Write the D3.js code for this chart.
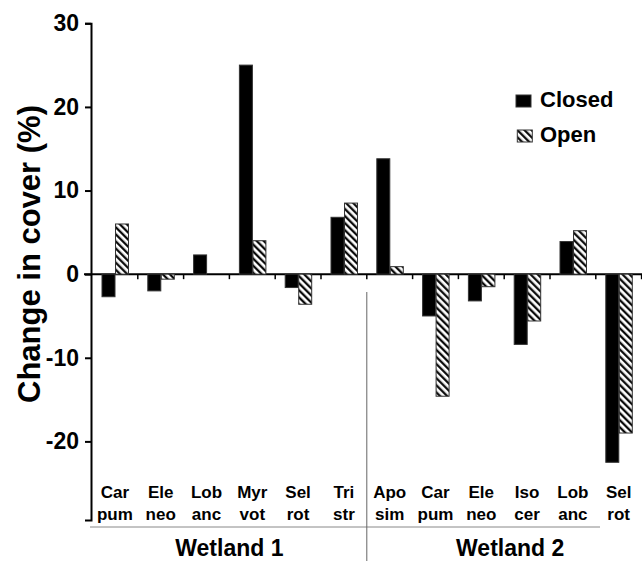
<!DOCTYPE html>
<html>
<head>
<meta charset="utf-8">
<script src="https://cdn.jsdelivr.net/npm/d3@7"></script>
<style>
    body { margin: 0; background: #fff; }
    svg { display: block; font-family: "Liberation Sans", Arial, sans-serif; }
</style>
</head>
<body>
<div id="chart"></div>
<script>
// chart values
var species = ["Car pum", "Ele neo", "Lob anc", "Myr vot", "Sel rot", "Tri str",
               "Apo sim", "Car pum", "Ele neo", "Iso cer", "Lob anc", "Sel rot"];
var wetlands = ["Wetland 1", "Wetland 2"];
var speciesPerWetland = [6, 6];
var closedValues = [-2.7, -2.0, 2.3, 25.0, -1.6, 6.8,
                    13.8, -5.0, -3.2, -8.4, 3.9, -22.5];
var openValues = [6.0, -0.6, 0, 4.0, -3.6, 8.5,
                  0.9, -14.6, -1.5, -5.6, 5.2, -19.0];
var yTicks = [-20, -10, 0, 10, 20, 30];
var seriesNames = ["Closed", "Open"];

function init() {
    var w = 642;
    var h = 561;

    var svg = d3.select("#chart")
        .append("svg")
        .attr("width", w)
        .attr("height", h);

    // diagonal hatch for the open treatment
    var defs = svg.append("defs");
    var pattern = defs.append("pattern")
        .attr("id", "hatch")
        .attr("patternUnits", "userSpaceOnUse")
        .attr("width", 5)
        .attr("height", 5)
        .attr("patternTransform", "rotate(-45)");
    pattern.append("rect")
        .attr("width", 5)
        .attr("height", 5)
        .attr("fill", "#fff");
    pattern.append("line")
        .attr("x1", 1.2).attr("y1", 0)
        .attr("x2", 1.2).attr("y2", 5)
        .attr("stroke", "#000")
        .attr("stroke-width", 2.2);

    var idx = d3.range(species.length);

    var xScale = d3.scaleBand()
        .domain(idx)
        .range([92, 641.6])
        .padding(0);

    var yScale = d3.scaleLinear()
        .domain([-29.4, 30])
        .range([520, 23.3]);

    var bw = xScale.bandwidth();
    var barW = 13;

    // y axis with bracket ends, plain hyphen minus like the original
    var yAxis = d3.axisLeft(yScale)
        .tickValues(yTicks)
        .tickFormat(function(d) { return String(d); })
        .tickSize(6)
        .tickSizeOuter(6)
        .tickPadding(6);

    var gy = svg.append("g")
        .attr("transform", "translate(91,0)")
        .call(yAxis);
    gy.selectAll("path, line").attr("stroke", "#000").attr("stroke-width", 2);
    gy.selectAll("text")
        .attr("fill", "#000")
        .style("font-size", "23px")
        .style("font-weight", "bold");

    // zero line with category ticks
    var gx = svg.append("g")
        .attr("transform", "translate(0," + yScale(0) + ")");
    gx.append("line")
        .attr("x1", 84)
        .attr("x2", w)
        .attr("stroke", "#000")
        .attr("stroke-width", 2);
    gx.selectAll(".cattick")
        .data(idx)
        .enter()
        .append("line")
        .attr("class", "cattick")
        .attr("x1", function(d) { return xScale(d) + bw; })
        .attr("x2", function(d) { return xScale(d) + bw; })
        .attr("y1", 0)
        .attr("y2", 5)
        .attr("stroke", "#000")
        .attr("stroke-width", 1.5);

    // closed bars
    svg.selectAll(".closed")
        .data(closedValues)
        .enter()
        .append("rect")
        .attr("class", "closed")
        .attr("x", function(d, i) { return xScale(i) + 10; })
        .attr("y", function(d) { return yScale(Math.max(0, d)); })
        .attr("width", barW)
        .attr("height", function(d) { return Math.abs(yScale(d) - yScale(0)); })
        .attr("fill", "#000")
        .attr("stroke", "#333")
        .attr("stroke-width", 1);

    // open bars
    svg.selectAll(".open")
        .data(openValues)
        .enter()
        .append("rect")
        .attr("class", "open")
        .attr("x", function(d, i) { return xScale(i) + 23.5; })
        .attr("y", function(d) { return yScale(Math.max(0, d)); })
        .attr("width", barW)
        .attr("height", function(d) { return Math.abs(yScale(d) - yScale(0)); })
        .attr("fill", "url(#hatch)")
        .attr("stroke", "#333")
        .attr("stroke-width", 1)
        .style("display", function(d) { return d === 0 ? "none" : null; });

    // species labels (two lines)
    var labels = svg.selectAll(".sp")
        .data(species)
        .enter()
        .append("text")
        .attr("class", "sp")
        .attr("text-anchor", "middle")
        .attr("fill", "#000")
        .style("font-size", "17px")
        .style("font-weight", "bold");
    labels.append("tspan")
        .attr("x", function(d, i) { return xScale(i) + bw / 2; })
        .attr("y", 498)
        .text(function(d) { return d.split(" ")[0]; });
    labels.append("tspan")
        .attr("x", function(d, i) { return xScale(i) + bw / 2; })
        .attr("y", 520)
        .text(function(d) { return d.split(" ")[1]; });

    // line under the species labels and divider between wetlands
    svg.append("line")
        .attr("x1", 90).attr("x2", 600)
        .attr("y1", 527).attr("y2", 527)
        .attr("stroke", "#888")
        .attr("stroke-width", 1);

    var split = xScale(speciesPerWetland[0]);
    svg.append("line")
        .attr("x1", split).attr("x2", split)
        .attr("y1", 292).attr("y2", h)
        .attr("stroke", "#666")
        .attr("stroke-width", 1);

    // wetland group labels
    var start = 0;
    wetlands.forEach(function(name, k) {
        var x0 = xScale(start);
        var x1 = xScale(start + speciesPerWetland[k] - 1) + bw;
        svg.append("text")
            .attr("x", (x0 + x1) / 2 + k * 6)
            .attr("y", 556)
            .attr("text-anchor", "middle")
            .attr("fill", "#000")
            .style("font-size", "23px")
            .style("font-weight", "bold")
            .text(name);
        start += speciesPerWetland[k];
    });

    // y axis title
    svg.append("text")
        .attr("transform", "translate(40,254) rotate(-90)")
        .attr("text-anchor", "middle")
        .attr("fill", "#000")
        .style("font-size", "31px")
        .style("font-weight", "bold")
        .text("Change in cover (%)");

    // legend
    var legend = svg.append("g").attr("transform", "translate(516,95)");
    seriesNames.forEach(function(name, k) {
        legend.append("rect")
            .attr("x", k * 1.3)
            .attr("y", k * 35)
            .attr("width", 15)
            .attr("height", 12)
            .attr("fill", k === 0 ? "#000" : "url(#hatch)")
            .attr("stroke", "#333")
            .attr("stroke-width", 1);
        legend.append("text")
            .attr("x", 24)
            .attr("y", k * 35 + 12)
            .attr("fill", "#000")
            .style("font-size", "22px")
            .style("font-weight", "bold")
            .text(name);
    });
}

window.onload = init;
</script>
</body>
</html>
